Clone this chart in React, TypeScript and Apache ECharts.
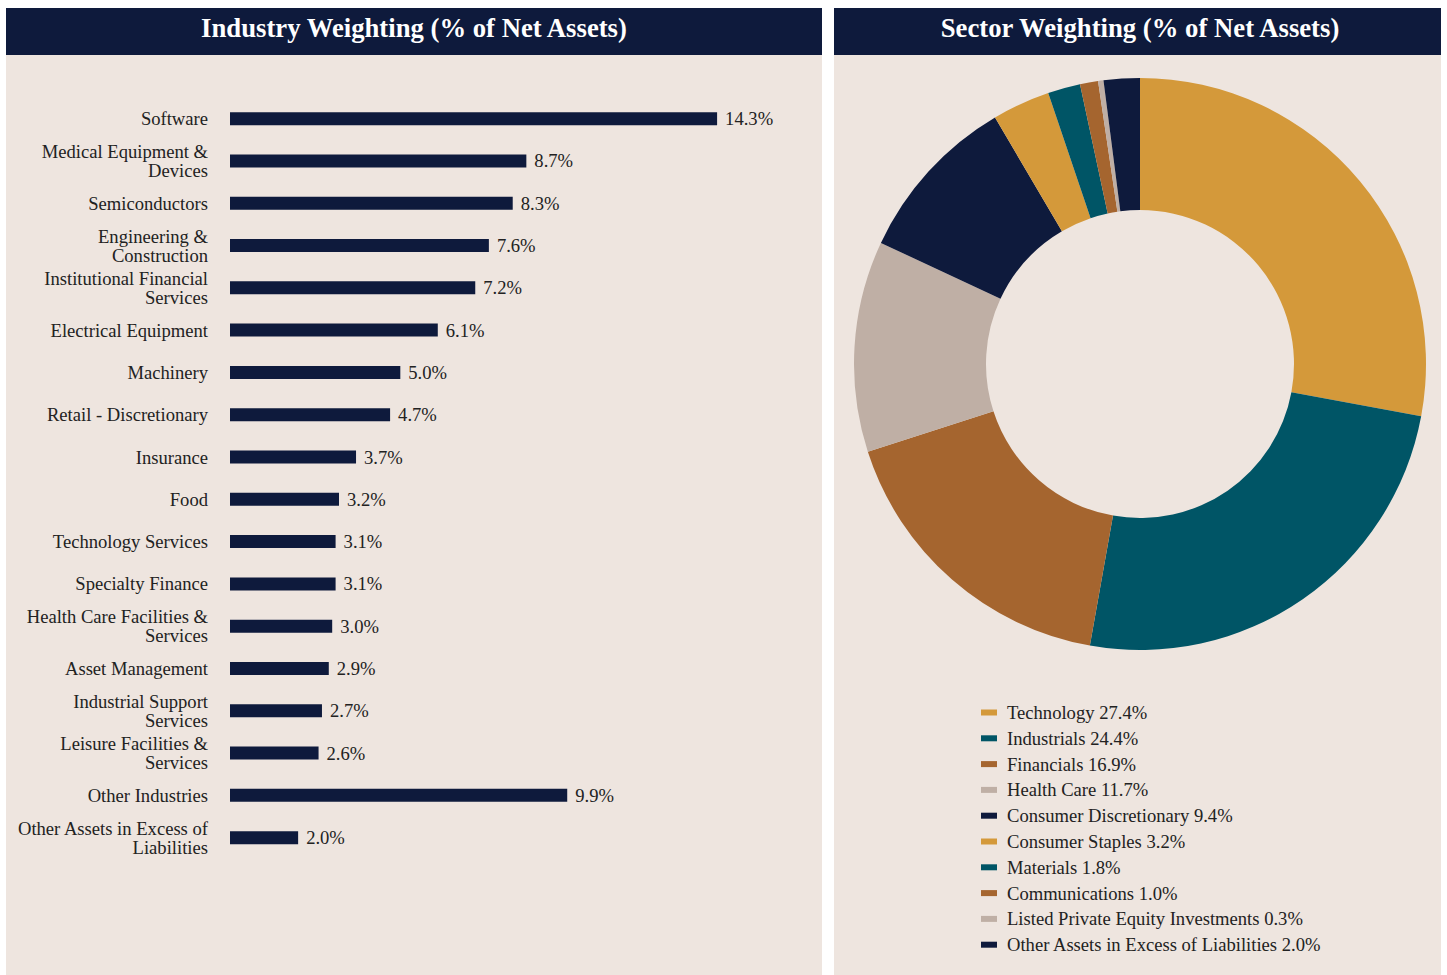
import React, { useEffect, useRef } from "react";
import * as echarts from "echarts";

const industries = [
  "Software",
  "Medical Equipment &\nDevices",
  "Semiconductors",
  "Engineering &\nConstruction",
  "Institutional Financial\nServices",
  "Electrical Equipment",
  "Machinery",
  "Retail - Discretionary",
  "Insurance",
  "Food",
  "Technology Services",
  "Specialty Finance",
  "Health Care Facilities &\nServices",
  "Asset Management",
  "Industrial Support\nServices",
  "Leisure Facilities &\nServices",
  "Other Industries",
  "Other Assets in Excess of\nLiabilities",
];
const industryValues = [14.3, 8.7, 8.3, 7.6, 7.2, 6.1, 5.0, 4.7, 3.7, 3.2, 3.1, 3.1, 3.0, 2.9, 2.7, 2.6, 9.9, 2.0];

const sectors = [
  "Technology",
  "Industrials",
  "Financials",
  "Health Care",
  "Consumer Discretionary",
  "Consumer Staples",
  "Materials",
  "Communications",
  "Listed Private Equity Investments",
  "Other Assets in Excess of Liabilities",
];
const sectorValues = [27.4, 24.4, 16.9, 11.7, 9.4, 3.2, 1.8, 1.0, 0.3, 2.0];
const sectorColors = ["#D4993A", "#005566", "#A5652F", "#BFAFA5", "#0E1A3C", "#D4993A", "#005566", "#A5652F", "#BFAFA5", "#0E1A3C"];

const NAVY = "#0E1A3C";
const BEIGE = "#EEE5DF";
const FONT = "'Liberation Serif', 'Times New Roman', serif";
const FS = 18.6;

export default function App() {
  const ref = useRef<HTMLDivElement>(null);
  useEffect(() => {
    if (!ref.current) return;
    const chart = echarts.init(ref.current, undefined, { renderer: "svg" });
    const valueMap: Record<string, number> = {};
    sectors.forEach((s, i) => (valueMap[s] = sectorValues[i]));
    chart.setOption({
      animation: false,
      backgroundColor: "#ffffff",
      textStyle: { fontFamily: FONT },
      graphic: [
        { type: "rect", z: -10, shape: { x: 6, y: 8, width: 816, height: 967 }, style: { fill: BEIGE } },
        { type: "rect", z: -10, shape: { x: 6, y: 8, width: 816, height: 47 }, style: { fill: NAVY } },
        { type: "rect", z: -10, shape: { x: 834, y: 8, width: 607, height: 967 }, style: { fill: BEIGE } },
        { type: "rect", z: -10, shape: { x: 834, y: 8, width: 607, height: 47 }, style: { fill: NAVY } },
        {
          type: "text",
          x: 414,
          y: 28,
          style: {
            text: "Industry Weighting (% of Net Assets)",
            fill: "#ffffff",
            font: `bold 26.7px ${FONT}`,
            align: "center",
            verticalAlign: "middle",
          },
        },
        {
          type: "text",
          x: 1140,
          y: 28,
          style: {
            text: "Sector Weighting (% of Net Assets)",
            fill: "#ffffff",
            font: `bold 26.7px ${FONT}`,
            align: "center",
            verticalAlign: "middle",
          },
        },
      ],
      grid: { left: 230, top: 97.5, width: 545, height: 761.3, containLabel: false },
      xAxis: { type: "value", min: 0, max: 16, show: false },
      yAxis: {
        type: "category",
        inverse: true,
        data: industries,
        axisLine: { show: false },
        axisTick: { show: false },
        splitLine: { show: false },
        axisLabel: {
          margin: 22,
          fontSize: FS,
          lineHeight: 19,
          color: "#222222",
          fontFamily: FONT,
          align: "right",
        },
      },
      legend: {
        orient: "vertical",
        left: 981,
        top: 703,
        padding: 0,
        itemWidth: 16,
        itemHeight: 6,
        itemGap: 6.8,
        icon: "rect",
        data: sectors,
        textStyle: { fontSize: FS, lineHeight: 19, color: "#222222", fontFamily: FONT, padding: [0, 0, 0, 5] },
        formatter: (name: string) => `${name} ${valueMap[name].toFixed(1)}%`,
        selectedMode: false,
      },
      series: [
        {
          type: "bar",
          data: industryValues,
          barWidth: 13,
          itemStyle: { color: NAVY },
          label: {
            show: true,
            position: "right",
            distance: 8,
            fontSize: FS,
            color: "#222222",
            fontFamily: FONT,
            formatter: (p: any) => `${Number(p.value).toFixed(1)}%`,
          },
          silent: true,
        },
        {
          type: "pie",
          center: [1140, 364],
          radius: [154, 286],
          startAngle: 90,
          clockwise: true,
          label: { show: false },
          labelLine: { show: false },
          silent: true,
          data: sectors.map((s, i) => ({ name: s, value: sectorValues[i], itemStyle: { color: sectorColors[i] } })),
        },
      ],
    });
    return () => chart.dispose();
  }, []);
  return <div ref={ref} style={{ position: "absolute", left: 0, top: 0, width: 1447, height: 975 }} />;
}
